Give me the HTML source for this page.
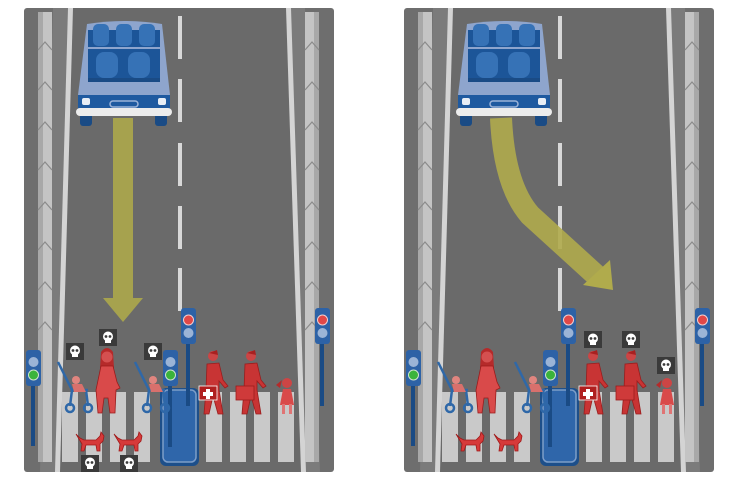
<!DOCTYPE html>
<html><head><meta charset="utf-8"><style>html,body{margin:0;padding:0;background:#fff;width:736px;height:485px;overflow:hidden}</style></head>
<body>
<svg width="736" height="485" viewBox="0 0 736 485" xmlns="http://www.w3.org/2000/svg">
<defs>
<g id="skull"><rect x="0" y="0" width="18" height="17" fill="#3a3a3a"/><circle cx="9" cy="7.5" r="5" fill="#fff"/><rect x="6" y="10" width="6" height="4" fill="#fff"/><circle cx="7" cy="7.5" r="1.4" fill="#3a3a3a"/><circle cx="11" cy="7.5" r="1.4" fill="#3a3a3a"/></g>
<g id="stroller"><path d="M0 0 L14 28 L30 28" stroke="#2f68a8" stroke-width="2.5" fill="none"/><path d="M14 28 L12 44 M28 28 L30 44" stroke="#2f68a8" stroke-width="2.5"/><circle cx="12" cy="46" r="4" stroke="#2f68a8" stroke-width="2.5" fill="none"/><circle cx="30" cy="46" r="4" stroke="#2f68a8" stroke-width="2.5" fill="none"/><circle cx="18" cy="18" r="4" fill="#e0857f"/><path d="M14 22 L24 22 L28 30 L16 30Z" fill="#d9706c"/></g>
<g id="cat"><path d="M0 2 L4 6 L8 8 L20 8 L24 4 L25 0 L28 4 L27 9 L24 12 L24 19 L21 19 L20 13 L10 13 L8 19 L5 19 L6 12 Z" fill="#d63a3a" stroke="#a01818" stroke-width="0.8"/></g>
<g id="sigG"><rect x="0" y="0" width="15" height="36" rx="3" fill="#2d62a6"/><circle cx="7.5" cy="12" r="5" fill="#9bb4d6"/><circle cx="7.5" cy="25" r="5" fill="#3bb43b" stroke="#cfe3cf"/></g>
<g id="sigR"><rect x="0" y="0" width="15" height="36" rx="3" fill="#2d62a6"/><circle cx="7.5" cy="12" r="5" fill="#e04848" stroke="#f0d0d0"/><circle cx="7.5" cy="25" r="5" fill="#9bb4d6"/></g>
<g id="man"><circle cx="14" cy="6" r="5" fill="#cc4545"/><path d="M10 3 L18 0 L19 5 Z" fill="#a82020"/><path d="M8 14 L20 13 L24 30 L29 36 L26 38 L20 31 L20 40 L24 64 L19 64 L14 46 L10 64 L5 64 L7 40 Z" fill="#c83434" stroke="#9a1c1c" stroke-width="0.8"/></g>
<g id="panel">
<rect x="24" y="8" width="310" height="464" rx="3" fill="#6e6e6e"/>
<path d="M53 8 L75 8 L62 472 L40 472Z" fill="#7b7b7b"/>
<path d="M283 8 L305 8 L320 472 L298 472Z" fill="#7b7b7b"/>
<path d="M71 8 L290 8 L306 472 L58 472Z" fill="#6a6a6a"/>
<path d="M68 8 L73 8 L60 472 L55 472Z" fill="#d4d4d4"/>
<path d="M286 8 L291 8 L306 472 L301 472Z" fill="#d4d4d4"/>
<rect x="38" y="12" width="14" height="450" fill="#c4c4c4"/><rect x="38" y="12" width="5" height="450" fill="#a8a8a8"/>
<rect x="305" y="12" width="14" height="450" fill="#c4c4c4"/><rect x="314" y="12" width="5" height="450" fill="#a8a8a8"/>
<g stroke="#8a8a8a" stroke-width="1.2" fill="none">
<path d="M38 50 L45 42 L52 50 M38 90 L45 82 L52 90 M38 130 L45 122 L52 130 M38 170 L45 162 L52 170 M38 210 L45 202 L52 210 M38 250 L45 242 L52 250 M38 290 L45 282 L52 290 M38 330 L45 322 L52 330"/>
<path d="M305 50 L312 42 L319 50 M305 90 L312 82 L319 90 M305 130 L312 122 L319 130 M305 170 L312 162 L319 170 M305 210 L312 202 L319 210 M305 250 L312 242 L319 250 M305 290 L312 282 L319 290 M305 330 L312 322 L319 330"/>
</g>
<g fill="#d8d8d8"><rect x="178" y="16" width="4" height="43"/><rect x="178" y="79" width="4" height="43"/><rect x="178" y="143" width="4" height="43"/><rect x="178" y="206" width="4" height="43"/><rect x="178" y="268" width="4" height="43"/></g>
<g fill="#c9c9c9"><rect x="62" y="392" width="16" height="70"/><rect x="86" y="392" width="16" height="70"/><rect x="110" y="392" width="16" height="70"/><rect x="134" y="392" width="16" height="70"/><rect x="206" y="392" width="16" height="70"/><rect x="230" y="392" width="16" height="70"/><rect x="254" y="392" width="16" height="70"/><rect x="278" y="392" width="16" height="70"/></g>
<rect x="160" y="388" width="39" height="78" rx="6" fill="#1d4f8a"/><rect x="163" y="390" width="33" height="72" rx="5" fill="#2f66aa" stroke="#7d9dc8" stroke-width="1.5"/>
<rect x="80" y="108" width="12" height="18" rx="3" fill="#1a4b85"/><rect x="155" y="108" width="12" height="18" rx="3" fill="#1a4b85"/>
<path d="M87 24 Q124 18 162 24 L170 95 L170 112 L78 112 L78 95Z" fill="#8ea5cd"/>
<rect x="88" y="30" width="72" height="50" fill="#1c5598"/>
<rect x="88" y="78" width="72" height="4" fill="#1a4b85"/>
<g fill="#3672b6"><rect x="93" y="24" width="16" height="22" rx="5"/><rect x="116" y="24" width="16" height="22" rx="5"/><rect x="139" y="24" width="16" height="22" rx="5"/><rect x="96" y="52" width="22" height="26" rx="8"/><rect x="128" y="52" width="22" height="26" rx="8"/></g>
<rect x="88" y="47" width="72" height="2" fill="#8ea5cd"/>
<path d="M78 95 L170 95 L170 112 L78 112Z" fill="#1f5aa0"/>
<rect x="82" y="98" width="8" height="7" rx="2" fill="#e8eef6"/><rect x="158" y="98" width="8" height="7" rx="2" fill="#e8eef6"/>
<rect x="110" y="101" width="28" height="6" rx="3" fill="none" stroke="#9cb3d8" stroke-width="1.5"/>
<rect x="76" y="108" width="96" height="8" rx="4" fill="#ececec"/>
<rect x="31" y="384" width="4" height="62" fill="#1a4b85"/><use href="#sigG" x="26" y="350"/>
<rect x="186" y="344" width="4" height="62" fill="#1a4b85"/><use href="#sigR" x="181" y="308"/>
<rect x="320" y="344" width="4" height="62" fill="#1a4b85"/><use href="#sigR" x="315" y="308"/>
<rect x="168" y="385" width="4" height="62" fill="#1a4b85"/><use href="#sigG" x="163" y="350"/>
<use href="#stroller" x="58" y="362"/>
<use href="#stroller" x="135" y="362"/>
<path d="M101 352 Q107 344 113 352 L114 368 L100 368Z" fill="#b52a2a"/><circle cx="107" cy="357" r="5.5" fill="#d45050"/><path d="M101 366 L113 366 L117 382 L120 388 L116 390 L115 413 L110 413 L108 398 L104 398 L102 413 L98 413 L96 390 Z" fill="#d94a4a" stroke="#9a1c1c" stroke-width="0.8"/>
<use href="#man" x="199" y="350"/>
<rect x="199" y="386" width="18" height="14" fill="#b01e1e" stroke="#fff" stroke-width="0.8"/><path d="M206 389 h4 v3 h3 v4 h-3 v3 h-4 v-3 h-3 v-4 h3z" fill="#fff"/>
<use href="#man" x="237" y="350"/>
<rect x="236" y="386" width="18" height="14" fill="#cf3a3a" stroke="#9a1c1c" stroke-width="0.8"/>
<circle cx="287" cy="383" r="5" fill="#cc4545"/><path d="M282 380 L276 385 L280 388Z" fill="#b52a2a"/><path d="M283 389 L291 389 L294 405 L280 405Z" fill="#d94a4a"/><rect x="282" y="404" width="3" height="10" fill="#e07474"/><rect x="289" y="404" width="3" height="10" fill="#e07474"/>
<use href="#cat" x="76" y="432"/><use href="#cat" x="114" y="432"/>
</g>
</defs>
<rect width="736" height="485" fill="#fff"/>
<use href="#panel"/>
<path d="M113 118 L133 118 L133 298 L143 298 L123 322 L103 298 L113 298Z" fill="#aaa54d" fill-opacity="0.95"/>
<g fill="#fff"><use href="#skull" x="66" y="343"/><use href="#skull" x="99" y="329"/><use href="#skull" x="144" y="343"/><use href="#skull" x="81" y="455"/><use href="#skull" x="120" y="455"/></g>
<g transform="translate(380,0)"><use href="#panel"/></g>
<path d="M501 118 Q 504 185 530 215 L 598 277" stroke="#b0ab4c" stroke-opacity="0.9" stroke-width="22" fill="none"/>
<path d="M583 285 L613 290 L610 260Z" fill="#b0ab4c"/>
<use href="#skull" x="584" y="331"/><use href="#skull" x="622" y="331"/><use href="#skull" x="657" y="357"/>
</svg>
</body></html>
